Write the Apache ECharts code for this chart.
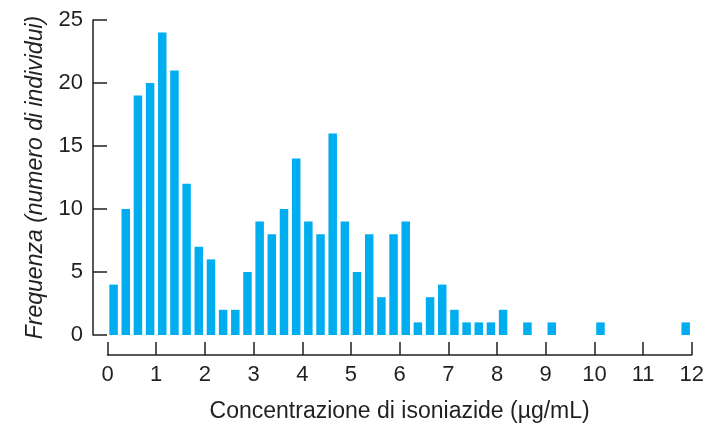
<!doctype html>
<html>
<head>
    <meta charset="UTF-8">
    <script src="https://cdn.jsdelivr.net/npm/echarts@6/dist/echarts.min.js"></script>
    <style>
        html, body { margin: 0; padding: 0; background: #fff; }
        #chart { width: 707px; height: 428px; }
    </style>
</head>
<body>
<div id="chart"></div>
<script type="text/javascript">
    // classi di concentrazione larghe 0.25 ug/mL, da 0 a 12
    var binWidth = 0.25;
    var counts = [4, 10, 19, 20, 24, 21, 12, 7, 6, 2, 2, 5,
                  9, 8, 10, 14, 9, 8, 16, 9, 5, 8, 3, 8,
                  9, 1, 3, 4, 2, 1, 1, 1, 2, 0, 1, 0,
                  1, 0, 0, 0, 1, 0, 0, 0, 0, 0, 0, 1];
    var xTicks = [0, 1, 2, 3, 4, 5, 6, 7, 8, 9, 10, 11, 12];
    var yTicks = [0, 5, 10, 15, 20, 25];

    var ink = '#231f20';
    var bars = [];
    for (var i = 0; i < counts.length; i++) {
        if (counts[i] > 0) bars.push([i * binWidth + binWidth / 2, counts[i]]);
    }

    var myChart = echarts.init(document.getElementById('chart'));
    var option = {
        animation: false,
        grid: { left: 107.5, right: 15, top: 20, bottom: 93 },
        xAxis: {
            type: 'value',
            min: xTicks[0],
            max: xTicks[xTicks.length - 1],
            interval: 1,
            offset: 20,
            splitLine: { show: false },
            axisLine: { onZero: false, lineStyle: { color: ink, width: 1.5 } },
            axisTick: { inside: true, length: 13, lineStyle: { color: ink, width: 1.5 } },
            axisLabel: { margin: 9, color: ink, fontSize: 22, fontFamily: 'Liberation Sans' },
            name: 'Concentrazione di isoniazide (µg/mL)',
            nameLocation: 'middle',
            nameGap: 45,
            nameMoveOverlap: false,
            nameTextStyle: { color: ink, fontSize: 23, fontFamily: 'Liberation Sans' }
        },
        yAxis: {
            type: 'value',
            min: yTicks[0],
            max: yTicks[yTicks.length - 1],
            interval: 5,
            offset: 14.5,
            splitLine: { show: false },
            axisLine: { show: true, onZero: false, lineStyle: { color: ink, width: 1.5 } },
            axisTick: { show: true, inside: true, length: 14, lineStyle: { color: ink, width: 1.5 } },
            axisLabel: { margin: 10, color: ink, fontSize: 22, fontFamily: 'Liberation Sans' },
            name: 'Frequenza (numero di individui)',
            nameLocation: 'middle',
            nameGap: 46,
            nameMoveOverlap: false,
            nameTextStyle: { color: ink, fontSize: 23, fontStyle: 'italic', fontFamily: 'Liberation Sans' }
        },
        series: [{
            type: 'bar',
            data: bars,
            barWidth: 8.5,
            itemStyle: { color: '#00aeef' }
        }]
    };
    myChart.setOption(option);
</script>
</body>
</html>
